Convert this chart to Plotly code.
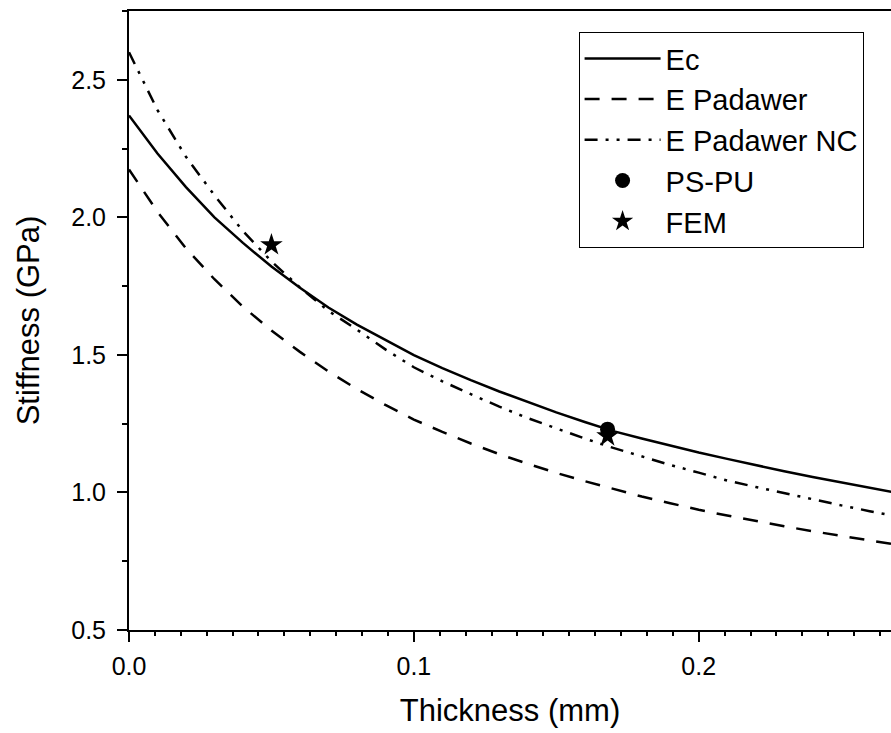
import plotly.graph_objects as go

thickness = [0.00, 0.01, 0.02, 0.03, 0.04, 0.05, 0.06, 0.07, 0.08, 0.09,
             0.10, 0.11, 0.12, 0.13, 0.14, 0.15, 0.16, 0.17, 0.18, 0.19,
             0.20, 0.21, 0.22, 0.23, 0.24, 0.25, 0.26, 0.27]

ec = [2.370, 2.232, 2.110, 2.000, 1.907, 1.821, 1.744, 1.672, 1.610, 1.553,
      1.499, 1.452, 1.408, 1.367, 1.328, 1.291, 1.256, 1.223, 1.196, 1.170,
      1.145, 1.122, 1.099, 1.077, 1.056, 1.036, 1.016, 0.998]

e_padawer = [2.174, 2.020, 1.887, 1.775, 1.675, 1.589, 1.511, 1.440, 1.376, 1.318,
             1.265, 1.220, 1.178, 1.139, 1.104, 1.071, 1.041, 1.012, 0.985, 0.961,
             0.937, 0.916, 0.896, 0.877, 0.859, 0.842, 0.825, 0.809]

e_padawer_nc = [2.600, 2.390, 2.220, 2.080, 1.950, 1.840, 1.745, 1.660, 1.592, 1.520,
                1.455, 1.404, 1.357, 1.312, 1.270, 1.232, 1.196, 1.162, 1.130, 1.100,
                1.072, 1.043, 1.020, 0.997, 0.975, 0.953, 0.932, 0.912]

pspu_x = [0.168]
pspu_y = [1.23]

fem_x = [0.050, 0.168]
fem_y = [1.900, 1.205]

x_ticks = [0.0, 0.1, 0.2]
x_ticklabels = ["0.0", "0.1", "0.2"]
y_ticks = [0.5, 1.0, 1.5, 2.0, 2.5]
y_ticklabels = ["0.5", "1.0", "1.5", "2.0", "2.5"]

FONT = "Liberation Sans, Arial, sans-serif"

fig = go.Figure()
fig.add_trace(go.Scatter(x=thickness, y=ec, mode="lines", name="Ec",
                         line=dict(color="black", width=2.5), legendrank=1))
fig.add_trace(go.Scatter(x=thickness, y=e_padawer, mode="lines", name="E Padawer",
                         line=dict(color="black", width=2.5, dash="15px,12px"), legendrank=2))
fig.add_trace(go.Scatter(x=thickness, y=e_padawer_nc, mode="lines", name="E Padawer NC",
                         line=dict(color="black", width=2.5, dash="13px,8px,3px,8px,3px,8px"),
                         legendrank=3))
fig.add_trace(go.Scatter(x=fem_x, y=fem_y, mode="markers", name="FEM",
                         marker=dict(symbol="star", size=17, color="black"), legendrank=5))
fig.add_trace(go.Scatter(x=pspu_x, y=pspu_y, mode="markers", name="PS-PU",
                         marker=dict(symbol="circle", size=15, color="black"), legendrank=4))

fig.update_layout(
    width=891, height=733,
    margin=dict(l=129, r=0, t=11, b=103, autoexpand=False),
    plot_bgcolor="white", paper_bgcolor="white",
    font=dict(family=FONT, color="black"),
    showlegend=True,
    legend=dict(x=0.59, y=0.966, xanchor="left", yanchor="top",
                bordercolor="black", borderwidth=1, bgcolor="white",
                font=dict(size=29, family=FONT, color="black"),
                itemwidth=76, tracegroupgap=0),
    xaxis=dict(range=[0, 0.2675], tickvals=x_ticks, ticktext=x_ticklabels,
               automargin=False,
               showgrid=False, zeroline=False,
               showline=True, linecolor="black", linewidth=2, mirror=True,
               ticks="outside", ticklen=10, tickwidth=2, tickcolor="black",
               ticklabelstandoff=3,
               tickfont=dict(size=25, family=FONT),
               minor=dict(dtick=0.1 / 11, ticks="outside", ticklen=4, tickwidth=2,
                          tickcolor="black", showgrid=False),
               title=dict(text="Thickness (mm)", font=dict(size=31, family=FONT), standoff=20)),
    yaxis=dict(range=[0.5, 2.75], tickvals=y_ticks, ticktext=y_ticklabels,
               automargin=False,
               showgrid=False, zeroline=False,
               showline=True, linecolor="black", linewidth=2, mirror=False,
               ticks="outside", ticklen=10, tickwidth=2, tickcolor="black",
               ticklabelstandoff=6,
               tickfont=dict(size=25, family=FONT),
               minor=dict(dtick=0.25, ticks="outside", ticklen=5, tickwidth=2,
                          tickcolor="black", showgrid=False),
               title=dict(text="Stiffness (GPa)", font=dict(size=31, family=FONT), standoff=22)),
)

fig.write_html("out.html",
               config={"displayModeBar": False},
               post_script="document.body.style.margin='0';document.body.style.overflow='hidden';")
